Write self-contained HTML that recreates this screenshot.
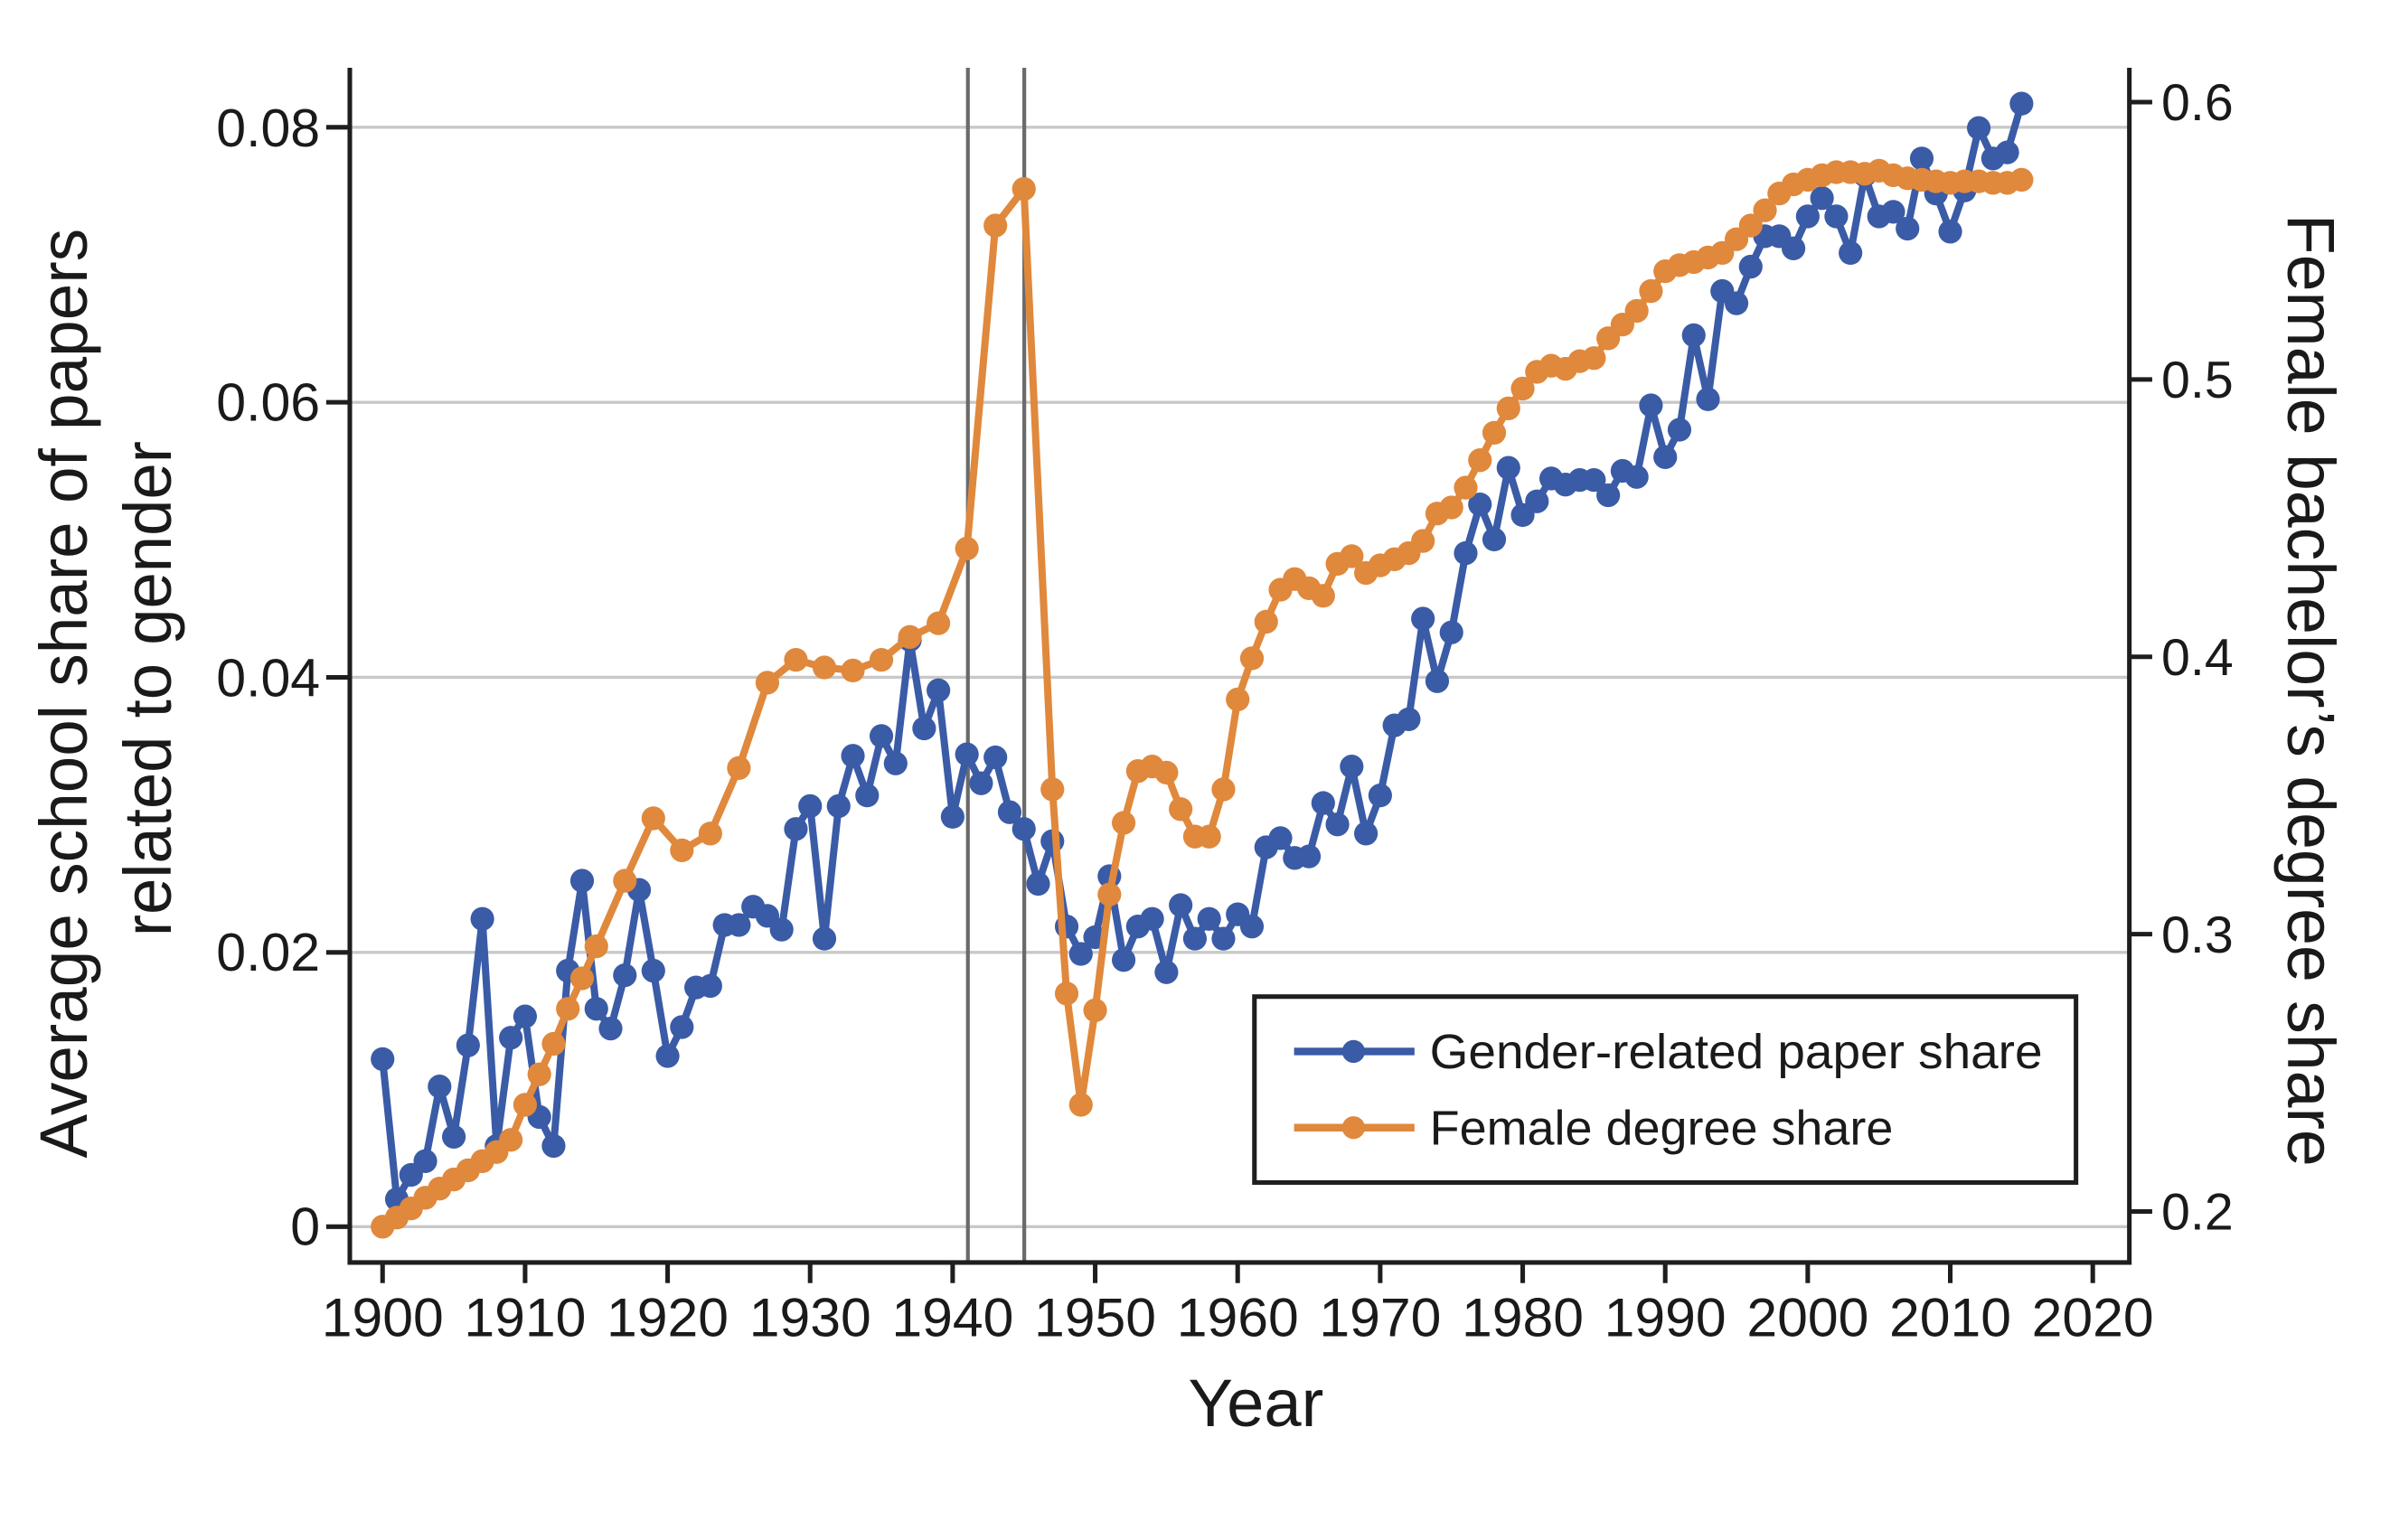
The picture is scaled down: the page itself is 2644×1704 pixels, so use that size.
<!DOCTYPE html>
<html><head><meta charset="utf-8"><style>
html,body{margin:0;padding:0;background:#fff;width:2644px;height:1704px;overflow:hidden}
svg{display:block}
text{font-family:"Liberation Sans",sans-serif;fill:#1a1a1a}
</style></head><body>
<svg width="2644" height="1704" viewBox="0 0 1568 1010.6" preserveAspectRatio="none">
<defs>
<marker id="mb" markerUnits="userSpaceOnUse" markerWidth="2" markerHeight="18" viewBox="-1 -9 2 18" refX="0" refY="0" overflow="visible"><ellipse cx="0" cy="0" rx="0.83" ry="7.8" fill="#3a5ba6"/></marker>
<marker id="mo" markerUnits="userSpaceOnUse" markerWidth="2" markerHeight="18" viewBox="-1 -9 2 18" refX="0" refY="0" overflow="visible"><ellipse cx="0" cy="0" rx="0.83" ry="7.8" fill="#e0883c"/></marker>
</defs>
<g stroke="#c8c8c8" stroke-width="2">
<line x1="229" x2="1397" y1="83.5" y2="83.5"/><line x1="229" x2="1397" y1="264" y2="264"/><line x1="229" x2="1397" y1="444.5" y2="444.5"/><line x1="229" x2="1397" y1="625" y2="625"/><line x1="229" x2="1397" y1="805" y2="805"/>
</g>
<g stroke="#6a6a6a" stroke-width="2.5"><line x1="635" x2="635" y1="44.5" y2="828"/><line x1="672" x2="672" y1="44.5" y2="828"/></g>
<g stroke="#1e1e1e" stroke-width="3" fill="none">
<polyline points="229.5,44.5 229.5,828.5 1397,828.5 1397,44.5"/>
<line x1="214" x2="229" y1="83.5" y2="83.5"/><line x1="214" x2="229" y1="264" y2="264"/><line x1="214" x2="229" y1="444.5" y2="444.5"/><line x1="214" x2="229" y1="625" y2="625"/><line x1="214" x2="229" y1="805" y2="805"/>
<line x1="1397" x2="1412" y1="67" y2="67"/><line x1="1397" x2="1412" y1="249" y2="249"/><line x1="1397" x2="1412" y1="431" y2="431"/><line x1="1397" x2="1412" y1="613" y2="613"/><line x1="1397" x2="1412" y1="795" y2="795"/>
<line x1="251" x2="251" y1="828" y2="842"/><line x1="344.5" x2="344.5" y1="828" y2="842"/><line x1="438" x2="438" y1="828" y2="842"/><line x1="531.5" x2="531.5" y1="828" y2="842"/><line x1="625" x2="625" y1="828" y2="842"/><line x1="718.5" x2="718.5" y1="828" y2="842"/><line x1="812" x2="812" y1="828" y2="842"/><line x1="905.5" x2="905.5" y1="828" y2="842"/><line x1="999" x2="999" y1="828" y2="842"/><line x1="1092.5" x2="1092.5" y1="828" y2="842"/><line x1="1186" x2="1186" y1="828" y2="842"/><line x1="1279.5" x2="1279.5" y1="828" y2="842"/><line x1="1373" x2="1373" y1="828" y2="842"/>
</g>
<g font-size="35" text-anchor="end">
<text x="210" y="96">0.08</text><text x="210" y="276">0.06</text><text x="210" y="457">0.04</text><text x="210" y="637">0.02</text><text x="210" y="817">0</text>
</g>
<g font-size="34">
<text x="1418" y="79">0.6</text><text x="1418" y="261">0.5</text><text x="1418" y="443">0.4</text><text x="1418" y="625">0.3</text><text x="1418" y="807">0.2</text>
</g>
<g font-size="36" text-anchor="middle">
<text x="251" y="877">1900</text><text x="344.5" y="877">1910</text><text x="438" y="877">1920</text><text x="531.5" y="877">1930</text><text x="625" y="877">1940</text><text x="718.5" y="877">1950</text><text x="812" y="877">1960</text><text x="905.5" y="877">1970</text><text x="999" y="877">1980</text><text x="1092.5" y="877">1990</text><text x="1186" y="877">2000</text><text x="1279.5" y="877">2010</text><text x="1373" y="877">2020</text>
</g>
<text x="824" y="936" font-size="44" text-anchor="middle">Year</text>
<text transform="translate(57,455) rotate(-90)" font-size="44" text-anchor="middle" textLength="610" lengthAdjust="spacingAndGlyphs">Average school share of papers</text>
<text transform="translate(112,452) rotate(-90)" font-size="44" text-anchor="middle" textLength="325" lengthAdjust="spacingAndGlyphs">related to gender</text>
<text transform="translate(1501,453) rotate(90)" font-size="44" text-anchor="middle" textLength="625" lengthAdjust="spacingAndGlyphs">Female bachelor’s degree share</text>
<g transform="translate(251,0) scale(9.35,1)" fill="none" stroke-linejoin="round">
<polyline vector-effect="non-scaling-stroke" stroke="#3a5ba6" stroke-width="8" marker-start="url(#mb)" marker-mid="url(#mb)" marker-end="url(#mb)" points="0,695 1,787 2,771 3,762 4,713 5,746 6,686 7,603 8,752 9,681 10,667 11,733 12,752 13,637 14,578 15,662 16,675 17,640 18,584 19,637 20,693 21,674 22,648 23,647 24,607 25,607 26,595 27,601 28,610 29,544 30,529 31,616 32,529 33,496 34,522 35,483 36,501 37,420 38,478 39,453 40,536 41,495 42,514 43,497 44,533 45,544 46,580 47,552 48,608 49,626 50,615 51,575 52,630 53,608 54,603 55,638 56,594 57,616 58,603 59,616 60,600 61,608 62,556 63,550 64,563 65,562 66,527 67,541 68,503 69,547 70,522 71,476 72,472 73,406 74,447 75,415 76,363 77,331 78,354 79,307 80,338 81,329 82,314 83,318 84,315 85,315 86,325 87,309 88,313 89,266 90,300 91,282 92,220 93,262 94,191 95,199 96,175 97,155 98,155 99,163 100,142 101,130 102,142 103,166 104,115 105,142 106,139 107,150 108,104 109,127 110,152 111,125 112,84 113,104 114,100 115,68"/>
<polyline vector-effect="non-scaling-stroke" stroke="#e0883c" stroke-width="8" marker-start="url(#mo)" marker-mid="url(#mo)" marker-end="url(#mo)" points="0,805 1,799 2,793 3,786 4,780 5,774 6,768 7,762 8,756 9,748 10,725 11,705 12,685 13,662 14,642 15,621 17,578 19,537 21,558 23,547 25,504 27,448 29,433 31,438 33,440 35,433 37,418 39,409 41,360 43,148 45,124 47,518 48,652 49,725 50,663 51,587 52,540 53,506 54,503 55,507 56,531 57,549 58,549 59,518 60,459 61,432 62,408 63,387 64,380 65,386 66,391 67,370 68,365 69,376 70,371 71,367 72,363 73,355 74,337 75,333 76,320 77,302 78,284 79,268 80,255 81,244 82,240 83,242 84,237 85,235 86,222 87,213 88,204 89,191 90,178 91,174 92,172 93,169 94,166 95,157 96,148 97,138 98,127 99,121 100,118 101,115 102,113 103,113 104,114 105,112 106,115 107,117 108,118 109,119 110,120 111,119 112,119 113,120 114,120 115,118"/>
</g>
<rect x="823" y="654" width="539" height="122" fill="#fff" stroke="#1e1e1e" stroke-width="3"/>
<line x1="849" x2="928" y1="690" y2="690" stroke="#3a5ba6" stroke-width="5"/><circle cx="888" cy="690" r="7.5" fill="#3a5ba6"/>
<line x1="849" x2="928" y1="740" y2="740" stroke="#e0883c" stroke-width="5"/><circle cx="888" cy="740" r="7.5" fill="#e0883c"/>
<text x="938" y="701" font-size="32" textLength="402" lengthAdjust="spacingAndGlyphs">Gender-related paper share</text>
<text x="938" y="751" font-size="32">Female degree share</text>
</svg>
</body></html>
